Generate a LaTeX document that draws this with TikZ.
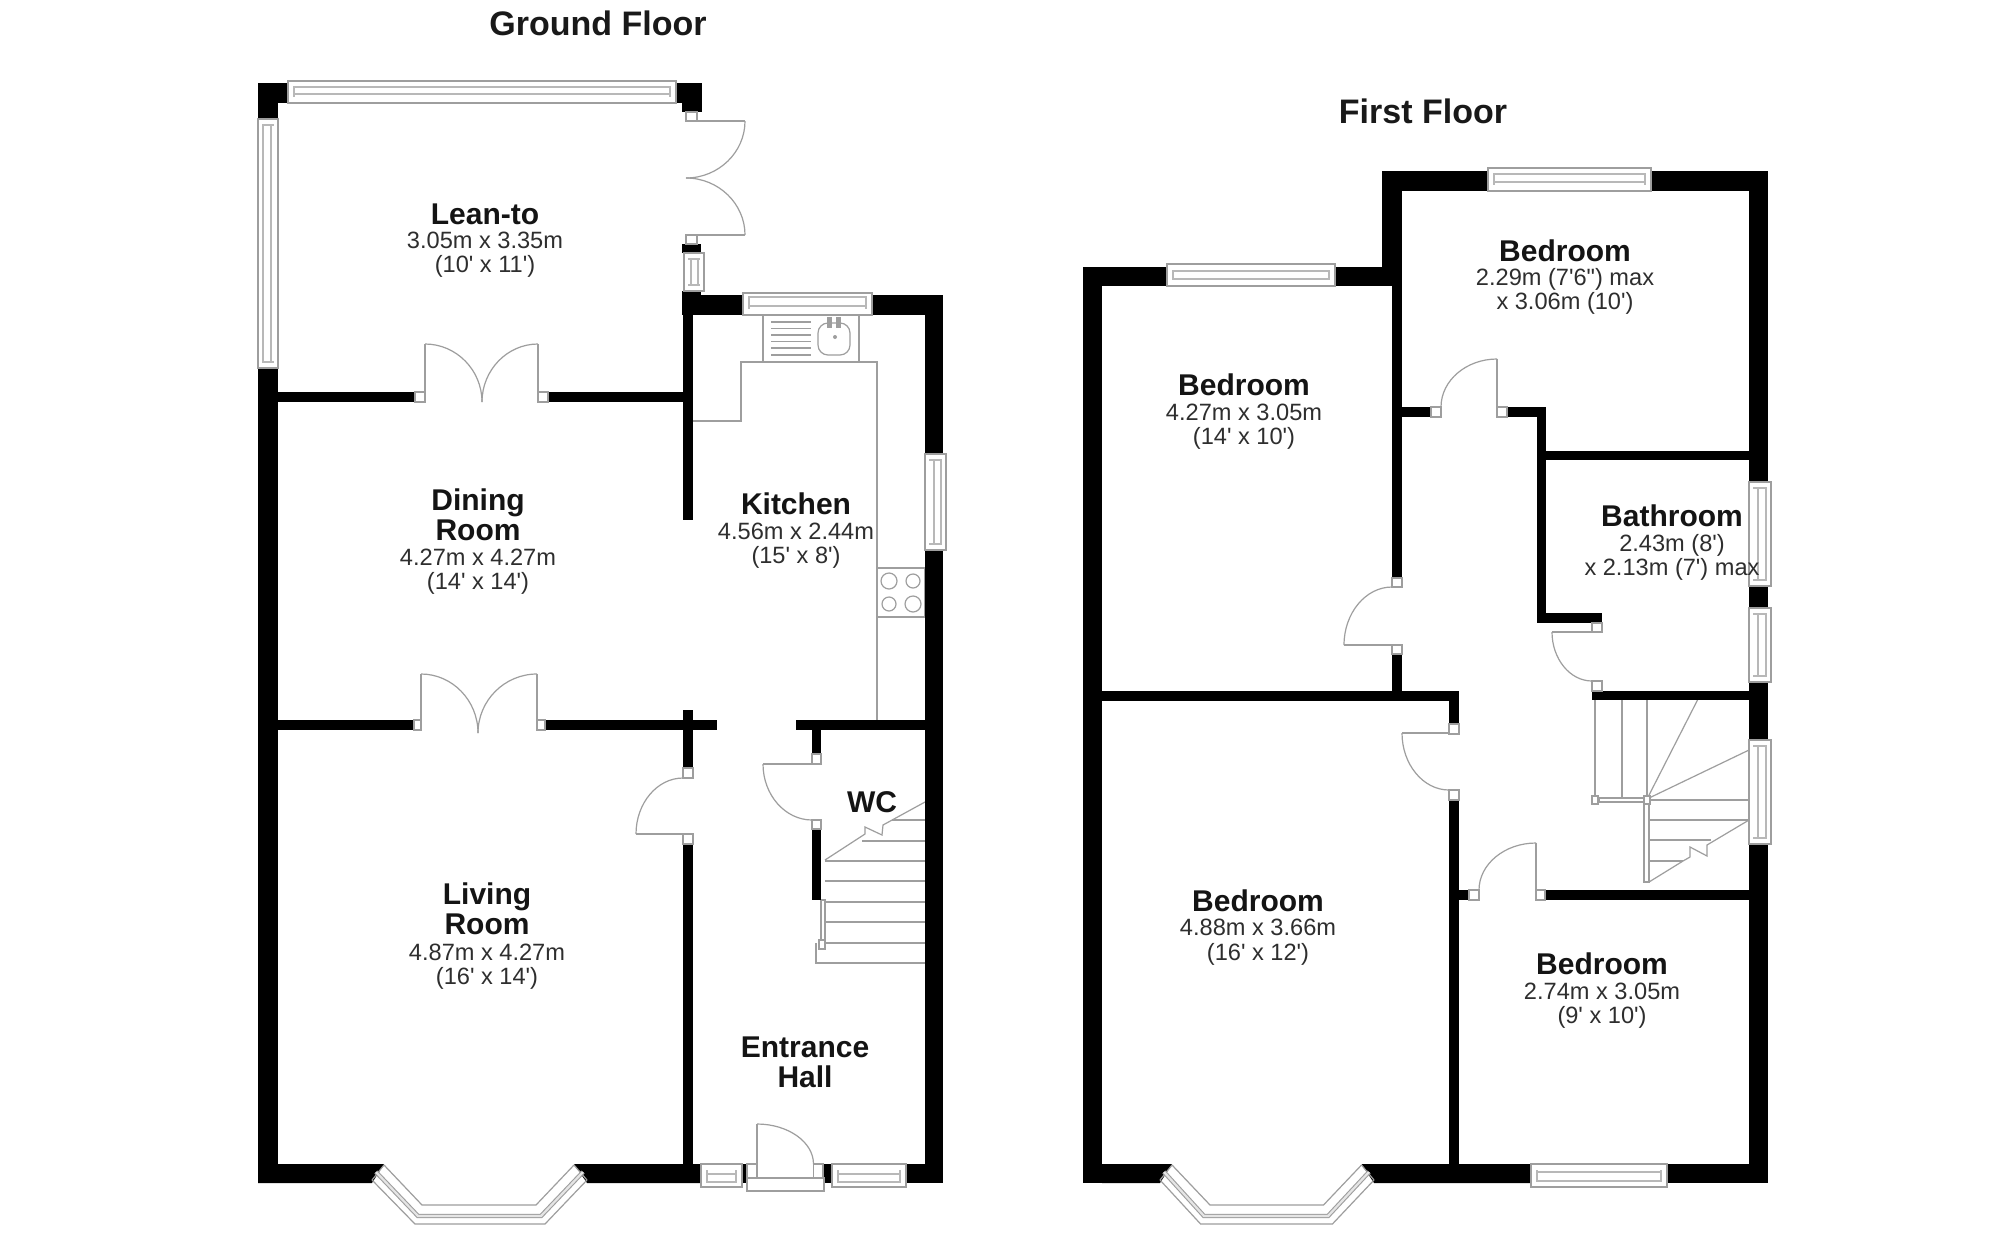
\documentclass[tikz,border=0pt]{standalone}
\usepackage{fontspec}
\newfontfamily\plainsans{Liberation Sans}
\usetikzlibrary{calc}
\definecolor{ln}{gray}{0.62}
\definecolor{lnb}{gray}{0.72}
\newcommand{\ap}{\char"27\relax}
\newcommand{\dq}{\char"22\relax}
\tikzset{
  thinln/.style={draw=ln,line width=0.6pt},
  glassln/.style={draw=lnb,line width=0.6pt},
  wallfill/.style={fill=black,draw=none},
  framebox/.style={thinln,fill=white},
  titletxt/.style={anchor=base,font=\plainsans\fontsize{17}{17}\bfseries\selectfont,inner sep=0pt,text=black!90},
  roomname/.style={anchor=base,font=\plainsans\fontsize{15}{15}\bfseries\selectfont,inner sep=0pt,text=black!92},
  roomdim/.style={anchor=base,font=\plainsans\fontsize{11.8}{12}\selectfont,inner sep=0pt,text=black!82},
  glassa/.style={draw=ln,line width=2.2pt,line join=miter},
  glassb/.style={draw=black!10,line width=1.1pt,line join=miter}
}
\newcommand{\wl}[4]{\fill[wallfill] (#1,#2) rectangle (#3,#4);}
\newcommand{\fb}[4]{\draw[framebox] (#1,#2) rectangle (#3,#4);}
\newcommand{\hwin}[6]{\draw[framebox] (#1,#3) rectangle (#2,#4);
  \draw[glassln] ($(#1,#5)+(6,0)$) rectangle ($(#2,#6)+(-6,0)$);
  \draw[glassln] ($(#1,#3)+(6,6)$) -- ($(#1,#4)+(6,-6)$);
  \draw[glassln] ($(#2,#3)+(-6,6)$) -- ($(#2,#4)+(-6,-6)$);}
\newcommand{\vwin}[6]{\draw[framebox] (#1,#3) rectangle (#2,#4);
  \draw[glassln] ($(#5,#3)+(0,6)$) rectangle ($(#6,#4)+(0,-6)$);
  \draw[glassln] ($(#1,#3)+(4,6)$) -- ($(#2,#3)+(-4,6)$);
  \draw[glassln] ($(#1,#4)+(4,-6)$) -- ($(#2,#4)+(-4,-6)$);}
\newcommand{\qa}[3]{\draw[thinln] (#1) .. controls ($(#1)!.55!(#2)$) and ($(#3)!.55!(#2)$) .. (#3);}
\begin{document}
\begin{tikzpicture}[x=0.5pt,y=-0.5pt]
\useasboundingbox (0,0) rectangle (1995,1253);
\fill[white] (0,0) rectangle (1995,1253);
%% ===== GROUND FLOOR =====
% kitchen fittings
\draw[thinln] (693,421) -- (741,421) -- (741,362) -- (877,362) -- (877,720);
\draw[thinln] (763,315) -- (763,362) (859,315) -- (859,362);
\foreach \yy in {322,328.5,335,341.5,348,355} \draw[thinln] (771,\yy) -- (811,\yy);
\draw[thinln,rounded corners=5pt] (818,323) rectangle (850,355);
\draw[thinln,fill=ln] (828,318) rectangle (831,327) (837,318) rectangle (840,327);
\fill[ln] (835,337) circle (2);
\draw[thinln] (877,568) rectangle (925,617);
\draw[thinln] (889,581) circle (8) (913,581) circle (7) (889,604) circle (7) (913,604) circle (8);
% ground floor stairs
\foreach \yy in {861,881,902,922,943} \draw[thinln] (825,\yy) -- (925,\yy);
\draw[thinln] (862,841) -- (925,841) (892,820) -- (925,820);
\draw[thinln] (816,943) -- (816,963) -- (925,963);
\draw[thinln] (825,860) -- (865,834) -- (865,827) -- (882,835) -- (883,825) -- (925,802);
\draw[framebox] (821,900) rectangle (825,943);
\draw[framebox] (819,940) rectangle (825,949);
% walls
\wl{258}{83}{288}{103}\wl{258}{103}{278}{119}
\wl{258}{368}{278}{1183}
\wl{676}{83}{702}{103}\wl{682}{103}{702}{112}
\wl{682}{244}{701}{253}
\wl{682}{291}{701}{315}\wl{682}{295}{743}{315}
\wl{872}{295}{943}{315}
\wl{925}{295}{943}{454}\wl{925}{550}{943}{1183}
\wl{683}{315}{693}{520}
\wl{278}{392}{415}{402}\wl{548}{392}{683}{402}
\wl{278}{720}{414}{730}\wl{545}{720}{717}{730}
\wl{683}{710}{693}{768}\wl{683}{844}{693}{1164}
\wl{796}{720}{925}{730}
\wl{812}{730}{821}{754}\wl{812}{829}{821}{900}
\fill[wallfill] (258,1164) -- (384,1164) -- (372,1183) -- (258,1183) -- cycle;
\fill[wallfill] (574,1164) -- (701,1164) -- (701,1183) -- (587,1183) -- cycle;
\wl{742}{1164}{747}{1183}\wl{823}{1164}{832}{1183}\wl{906}{1164}{943}{1183}
% ground floor windows
\hwin{288}{676}{81}{103}{87}{94}
\vwin{258}{278}{119}{368}{263}{271}
\vwin{684}{704}{253}{291}{691}{698}
\hwin{743}{872}{293}{315}{297}{306}
\vwin{925}{946}{454}{550}{934}{941}
\hwin{701}{742}{1164}{1187}{1174}{1182}
\hwin{832}{906}{1164}{1187}{1174}{1182}
% bay
\draw[thinln] (372,1180) -- (415,1224) -- (545,1224) -- (587,1180);
\draw[thinln] (384,1165) -- (422,1205) -- (536,1205) -- (574,1165);
\draw[thinln] (372,1180) -- (384,1165) (587,1180) -- (574,1165);
\draw[glassa] (376,1172) -- (418,1216) -- (541,1216) -- (583,1172);
\draw[glassb] (376,1172) -- (418,1216) -- (541,1216) -- (583,1172);
% ground frames
\fb{686}{112}{697}{121}\fb{686}{235}{697}{244}
\fb{415}{392}{425}{402}\fb{538}{392}{548}{402}
\fb{414}{720}{421}{730}\fb{537}{720}{545}{730}
\fb{683}{768}{693}{778}\fb{683}{834}{693}{844}
\fb{812}{754}{821}{764}\fb{812}{820}{821}{829}
\fb{747}{1164}{757}{1178}\fb{813.5}{1164}{823}{1178}
\draw[framebox] (747,1178) rectangle (824,1191);
% ground doors
\draw[thinln] (697,121) -- (745,121) (745,235) -- (687,235);
\qa{745,121}{745,178}{686,178}
\qa{686,178}{745,178}{745,235}
\draw[thinln] (425,392) -- (425,344) (538,392) -- (538,344);
\qa{425,344}{482,344}{482,402}
\qa{538,344}{482,344}{482,402}
\draw[thinln] (421,720) -- (421,674) (537,720) -- (537,674);
\qa{421,674}{478,674}{478,733}
\qa{537,674}{478,674}{478,733}
\draw[thinln] (636,834) -- (683,834);
\qa{683,778}{636,778}{636,834}
\draw[thinln] (812,764) -- (763,764);
\qa{763,764}{763,820}{812,820}
\draw[thinln] (757,1164) -- (757,1124);
\qa{757,1124}{813.5,1124}{813.5,1164}
%% ===== FIRST FLOOR =====
% stairs
\draw[thinln] (1595,700) -- (1595,797) (1622,699) -- (1622,797) (1647,699) -- (1647,797);
\draw[thinln] (1698,699) -- (1647,799) -- (1749,750);
\draw[thinln] (1647,800) -- (1749,800) (1650,820) -- (1749,820) (1650,840) -- (1711,840) (1650,861) -- (1683,861);
\draw[thinln] (1649,882) -- (1683,861) -- (1690,857) -- (1690,847) -- (1707,856) -- (1707,845) -- (1749,820);
\draw[framebox] (1599,798) rectangle (1645,802);
\draw[framebox] (1644,802) rectangle (1649,882);
\draw[framebox] (1592,796) rectangle (1598,804);
\draw[framebox] (1644,796) rectangle (1650,804);
% walls
\wl{1083}{267}{1167}{286}\wl{1335}{267}{1402}{286}
\wl{1083}{267}{1102}{1183}
\wl{1382}{171}{1402}{286}
\wl{1382}{171}{1488}{191}\wl{1651}{171}{1768}{191}
\wl{1749}{171}{1768}{482}\wl{1749}{586}{1768}{608}\wl{1749}{682}{1768}{740}\wl{1749}{844}{1768}{1183}
\wl{1392}{286}{1402}{578}\wl{1392}{654}{1402}{691}
\wl{1102}{691}{1459}{701}
\wl{1449}{691}{1459}{724}\wl{1449}{800}{1459}{1164}
\wl{1459}{890}{1469}{900}\wl{1545}{890}{1749}{900}
\wl{1402}{407}{1431}{417}\wl{1507}{407}{1546}{417}
\wl{1537}{407}{1546}{623}\wl{1546}{451}{1749}{460}
\wl{1537}{613}{1602}{623}
\wl{1592}{691}{1749}{700}
\fill[wallfill] (1102,1164) -- (1172,1164) -- (1160,1183) -- (1102,1183) -- cycle;
\fill[wallfill] (1361.5,1164) -- (1531,1164) -- (1531,1183) -- (1374,1183) -- cycle;
\wl{1667}{1164}{1768}{1183}
% windows
\hwin{1167}{1335}{264}{286}{271}{279}
\hwin{1488}{1651}{168}{191}{174}{182}
\vwin{1749}{1771}{482}{586}{1758}{1766}
\vwin{1749}{1771}{608}{682}{1758}{1766}
\vwin{1749}{1771}{740}{844}{1758}{1766}
\hwin{1531}{1667}{1164}{1187}{1172}{1181}
% bay
\draw[thinln] (1160,1180) -- (1200.6,1224) -- (1332.4,1224) -- (1374,1180);
\draw[thinln] (1172,1165) -- (1210,1205) -- (1323.5,1205) -- (1361.5,1165);
\draw[thinln] (1160,1180) -- (1172,1165) (1374,1180) -- (1361.5,1165);
\draw[glassa] (1164,1172) -- (1204,1216) -- (1328,1216) -- (1369,1172);
\draw[glassb] (1164,1172) -- (1204,1216) -- (1328,1216) -- (1369,1172);
% frames
\fb{1431}{407}{1441}{417}\fb{1497}{407}{1507}{417}
\fb{1392}{578}{1402}{587}\fb{1392}{645}{1402}{654}
\fb{1592}{623}{1602}{632}\fb{1592}{681}{1602}{691}
\fb{1449}{724}{1459}{734}\fb{1449}{790}{1459}{800}
\fb{1469}{890}{1479}{900}\fb{1536}{890}{1545}{900}
% doors
\draw[thinln] (1497,407) -- (1497,359);
\qa{1497,359}{1441,359}{1441,407}
\draw[thinln] (1344,645) -- (1392,645);
\qa{1344,645}{1344,587}{1392,587}
\draw[thinln] (1592,632) -- (1552,632);
\qa{1552,632}{1552,681}{1592,681}
\draw[thinln] (1449,733) -- (1402,733);
\qa{1402,733}{1402,790}{1449,790}
\draw[thinln] (1536,900) -- (1536,843);
\qa{1536,843}{1479,843}{1479,890}
%% ===== TEXT =====
\node[titletxt] (tground) at (598,35) {Ground Floor};
\node[titletxt] (tfirst) at (1423,123) {First Floor};
\node[roomname] (lean) at (485,224) {Lean-to};
\node[roomdim] (leana) at (485,248) {3.05m x 3.35m};
\node[roomdim] (leanb) at (485,272) {(10\ap\ x 11\ap)};
\node[roomname] (din1) at (478,510) {Dining};
\node[roomname] (din2) at (478,540) {Room};
\node[roomdim] (dina) at (478,565) {4.27m x 4.27m};
\node[roomdim] (dinb) at (478,589) {(14\ap\ x 14\ap)};
\node[roomname] (kit) at (796,514) {Kitchen};
\node[roomdim] (kita) at (796,539) {4.56m x 2.44m};
\node[roomdim] (kitb) at (796,563) {(15\ap\ x 8\ap)};
\node[roomname] (wc) at (872,812) {WC};
\node[roomname] (liv1) at (487,904) {Living};
\node[roomname] (liv2) at (487,934) {Room};
\node[roomdim] (liva) at (487,960) {4.87m x 4.27m};
\node[roomdim] (livb) at (487,984) {(16\ap\ x 14\ap)};
\node[roomname] (ent1) at (805,1057) {Entrance};
\node[roomname] (ent2) at (805,1087) {Hall};
\node[roomname] (bed1) at (1565,261) {Bedroom};
\node[roomdim] (bed1a) at (1565,285) {2.29m (7\ap 6\dq) max};
\node[roomdim] (bed1b) at (1565,309) {x 3.06m (10\ap)};
\node[roomname] (bath) at (1672,526) {Bathroom};
\node[roomdim] (batha) at (1672,551) {2.43m (8\ap)};
\node[roomdim] (bathb) at (1672,575) {x 2.13m (7\ap) max};
\node[roomname] (bed2) at (1244,395) {Bedroom};
\node[roomdim] (bed2a) at (1244,420) {4.27m x 3.05m};
\node[roomdim] (bed2b) at (1244,444) {(14\ap\ x 10\ap)};
\node[roomname] (bed3) at (1258,911) {Bedroom};
\node[roomdim] (bed3a) at (1258,935) {4.88m x 3.66m};
\node[roomdim] (bed3b) at (1258,960) {(16\ap\ x 12\ap)};
\node[roomname] (bed4) at (1602,974) {Bedroom};
\node[roomdim] (bed4a) at (1602,999) {2.74m x 3.05m};
\node[roomdim] (bed4b) at (1602,1023) {(9\ap\ x 10\ap)};
\end{tikzpicture}
\end{document}
